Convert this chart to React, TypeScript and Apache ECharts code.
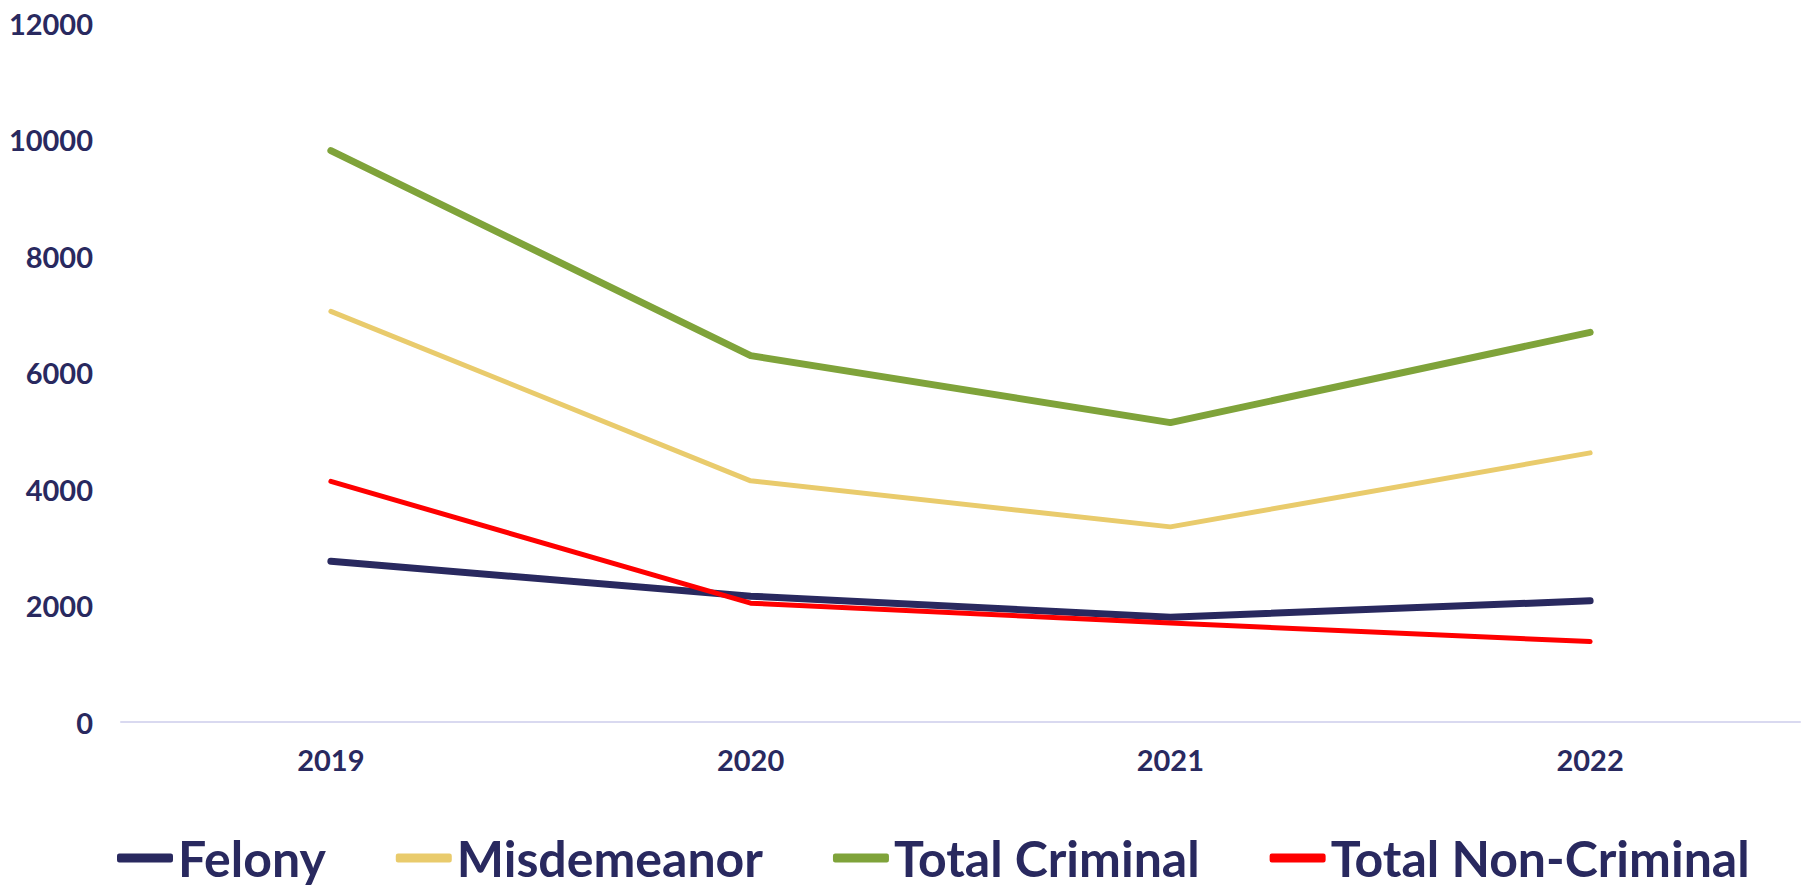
import React, { useEffect, useRef } from "react";
import * as echarts from "echarts";

const years = ["2019", "2020", "2021", "2022"];
const felony = [2760, 2160, 1800, 2080];
const misdemeanor = [7050, 4140, 3350, 4620];
const totalCriminal = [9810, 6290, 5140, 6690];
const totalNonCriminal = [4130, 2040, 1700, 1380];
const yTicks = { min: 0, max: 12000, interval: 2000 };

const TEXT = "#29295f";
const FONT = "Lato, 'Open Sans', sans-serif";

export default function App() {
  const ref = useRef<HTMLDivElement>(null);
  useEffect(() => {
    document.body.style.margin = "0";
    if (!ref.current) return;
    const chart = echarts.init(ref.current, null, { renderer: "svg" });
    const mk = (name: string, data: number[], color: string, width: number) => ({
      name,
      type: "line",
      data,
      symbol: "none",
      lineStyle: { color, width, cap: "round", join: "round" },
      itemStyle: { color },
    });
    chart.setOption({
      animation: false,
      backgroundColor: "#ffffff",
      grid: { left: 121, right: 14, top: 23, bottom: 170, containLabel: false },
      xAxis: {
        type: "category",
        data: years,
        boundaryGap: true,
        axisLine: { lineStyle: { color: "#d9d9f0", width: 2 } },
        axisTick: { show: false },
        axisLabel: { color: TEXT, fontFamily: FONT, fontWeight: "bold", fontSize: 29, margin: 23 },
      },
      yAxis: {
        type: "value",
        min: yTicks.min,
        max: yTicks.max,
        interval: yTicks.interval,
        splitLine: { show: false },
        axisLine: { show: false },
        axisTick: { show: false },
        axisLabel: {
          color: TEXT,
          fontFamily: FONT,
          fontWeight: "bold",
          fontSize: 29,
          margin: 28,
          formatter: (v: number) => String(v),
        },
      },
      legend: {
        left: 117,
        top: 833,
        padding: 0,
        itemGap: 70,
        itemWidth: 56,
        itemHeight: 9,
        icon: "roundRect",
        textStyle: { color: TEXT, fontFamily: FONT, fontWeight: "bold", fontSize: 50, lineHeight: 50 },
        data: ["Felony", "Misdemeanor", "Total Criminal", "Total Non-Criminal"],
      },
      series: [
        mk("Felony", felony, "#29295f", 7),
        mk("Misdemeanor", misdemeanor, "#e9cb6c", 5),
        mk("Total Criminal", totalCriminal, "#7fa33a", 7),
        mk("Total Non-Criminal", totalNonCriminal, "#ff0000", 5),
      ],
    });
    return () => chart.dispose();
  }, []);
  return <div ref={ref} style={{ width: 1814, height: 892 }} />;
}
